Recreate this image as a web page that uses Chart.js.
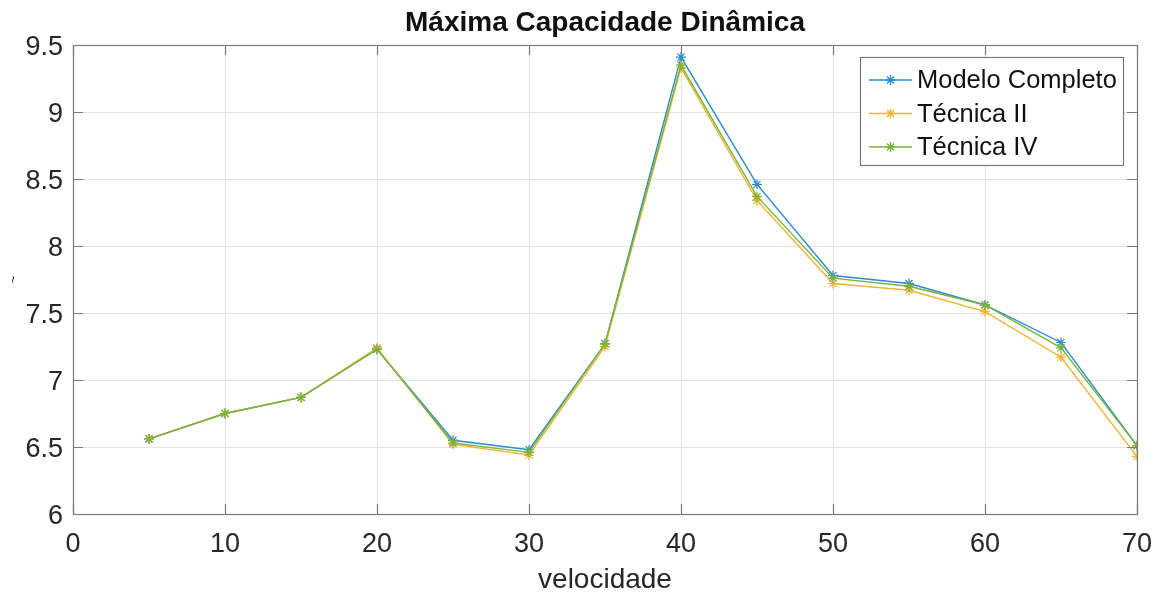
<!DOCTYPE html>
<html>
<head>
<meta charset="utf-8">
<script src="https://cdn.jsdelivr.net/npm/chart.js@4"></script>
<style>
  html, body { margin: 0; padding: 0; background: #fff; }
  #wrap { width: 1159px; height: 597px; position: relative; }
</style>
</head>
<body>
<div id="wrap"><canvas id="c" width="1159" height="597"></canvas></div>
<script>
// Velocidade (eixo x) e valores de cada série
const velocidade = [5, 10, 15, 20, 25, 30, 35, 40, 45, 50, 55, 60, 65, 70];
const modeloCompleto = [6.56, 6.75, 6.87, 7.23, 6.55, 6.48, 7.27, 9.41, 8.46, 7.78, 7.72, 7.56, 7.28, 6.51];
const tecnicaII      = [6.56, 6.75, 6.87, 7.24, 6.52, 6.44, 7.25, 9.33, 8.34, 7.72, 7.67, 7.51, 7.17, 6.43];
const tecnicaIV      = [6.56, 6.75, 6.87, 7.23, 6.53, 6.46, 7.27, 9.35, 8.37, 7.76, 7.70, 7.56, 7.24, 6.51];

const seriesNames = ['Modelo Completo', 'Técnica II', 'Técnica IV'];
const seriesColors = ['#2b8bd0', '#efb531', '#7cb33a'];
const xTicks = [0, 10, 20, 30, 40, 50, 60, 70];
const yTicks = [6, 6.5, 7, 7.5, 8, 8.5, 9, 9.5];

const chartTitle = 'Máxima Capacidade Dinâmica';
const xLabel = 'velocidade';
const yLabel = '~';

const FONT = '"Liberation Sans", Arial, Helvetica, sans-serif';
const AXIS_COLOR = '#7a7a7a';
const TEXT_COLOR = '#262626';

function toPoints(values) {
  return velocidade.map((v, i) => ({ x: v, y: values[i] }));
}

const allSeries = [modeloCompleto, tecnicaII, tecnicaIV];
const datasets = allSeries.map((vals, i) => ({
  label: seriesNames[i],
  data: toPoints(vals),
  borderColor: seriesColors[i],
  backgroundColor: seriesColors[i],
  borderWidth: 1.4,
  pointStyle: 'star',
  pointRadius: 5,
  pointBorderWidth: 1.2,
  pointHoverRadius: 5,
  tension: 0,
  fill: false,
  order: allSeries.length - 1 - i   // later series drawn on top
}));

// Box, inward ticks, title, axis labels and legend drawn over the plot
const decorations = {
  id: 'decorations',
  afterDraw(chart) {
    const ctx = chart.ctx;
    const a = chart.chartArea;
    const xs = chart.scales.x, ys = chart.scales.y;
    ctx.save();

    // axes box
    ctx.strokeStyle = AXIS_COLOR;
    ctx.lineWidth = 1.2;
    ctx.strokeRect(a.left + 0.5, a.top + 0.5, a.right - a.left, a.bottom - a.top);

    // inward tick marks on all four sides
    const TL = 10;
    ctx.beginPath();
    xTicks.forEach(t => {
      const px = Math.round(xs.getPixelForValue(t)) + 0.5;
      ctx.moveTo(px, a.bottom); ctx.lineTo(px, a.bottom - TL);
      ctx.moveTo(px, a.top); ctx.lineTo(px, a.top + TL);
    });
    yTicks.forEach(t => {
      const py = Math.round(ys.getPixelForValue(t)) + 0.5;
      ctx.moveTo(a.left, py); ctx.lineTo(a.left + TL, py);
      ctx.moveTo(a.right, py); ctx.lineTo(a.right - TL, py);
    });
    ctx.stroke();

    // title
    const cx = (a.left + a.right) / 2;
    ctx.fillStyle = '#111';
    ctx.font = 'bold 28px ' + FONT;
    ctx.textAlign = 'center';
    ctx.textBaseline = 'middle';
    ctx.fillText(chartTitle, cx, 23);

    // x label
    ctx.fillStyle = TEXT_COLOR;
    ctx.font = '28px ' + FONT;
    ctx.fillText(xLabel, cx, 580);

    // y label
    ctx.save();
    ctx.translate(13, (a.top + a.bottom) / 2);
    ctx.rotate(-Math.PI / 2);
    ctx.font = '13px ' + FONT;
    ctx.fillText(yLabel, 0, 0);
    ctx.restore();

    // legend
    const lx = 860.5, ly = 57.5, lw = 263, lh = 108;
    ctx.fillStyle = '#fff';
    ctx.fillRect(lx, ly, lw, lh);
    ctx.strokeStyle = AXIS_COLOR;
    ctx.lineWidth = 1.2;
    ctx.strokeRect(lx, ly, lw, lh);
    const rows = [80, 113.5, 147];
    ctx.font = '25.5px ' + FONT;
    ctx.textAlign = 'left';
    ctx.textBaseline = 'middle';
    chart.data.datasets.forEach((ds, i) => {
      const y = rows[i];
      ctx.strokeStyle = ds.borderColor;
      ctx.lineWidth = 1.4;
      ctx.beginPath();
      ctx.moveTo(869, y); ctx.lineTo(912, y);
      ctx.stroke();
      Chart.helpers.drawPoint(ctx, {
        pointStyle: 'star', radius: 5, rotation: 0, borderWidth: 1.2
      }, 890.5, y);
      ctx.fillStyle = '#111';
      ctx.fillText(ds.label, 917, y + 1);
    });

    ctx.restore();
  }
};

new Chart(document.getElementById('c'), {
  type: 'line',
  data: { datasets },
  options: {
    responsive: false,
    animation: false,
    devicePixelRatio: 1,
    layout: { padding: { top: 45, right: 22, left: 0, bottom: 0 } },
    plugins: {
      legend: { display: false },
      title: { display: false },
      tooltip: { enabled: false }
    },
    scales: {
      x: {
        type: 'linear',
        min: 0, max: 70,
        afterFit(s) { s.height = 83; s.paddingLeft = 0; s.paddingRight = 0; },
        afterBuildTicks(s) { s.ticks = xTicks.map(v => ({ value: v })); },
        grid: { color: '#e3e3e3', lineWidth: 1, drawTicks: false },
        border: { display: false },
        ticks: {
          padding: 14,
          color: TEXT_COLOR,
          font: { family: FONT, size: 27 },
          maxRotation: 0,
          callback: v => String(v)
        }
      },
      y: {
        type: 'linear',
        min: 6, max: 9.5,
        afterFit(s) { s.width = 73; s.paddingTop = 0; s.paddingBottom = 0; },
        afterBuildTicks(s) { s.ticks = yTicks.map(v => ({ value: v })); },
        grid: { color: '#e3e3e3', lineWidth: 1, drawTicks: false },
        border: { display: false },
        ticks: {
          padding: 10,
          labelOffset: 3,
          color: TEXT_COLOR,
          font: { family: FONT, size: 27 },
          callback: v => String(v)
        }
      }
    }
  },
  plugins: [decorations]
});
</script>
</body>
</html>
